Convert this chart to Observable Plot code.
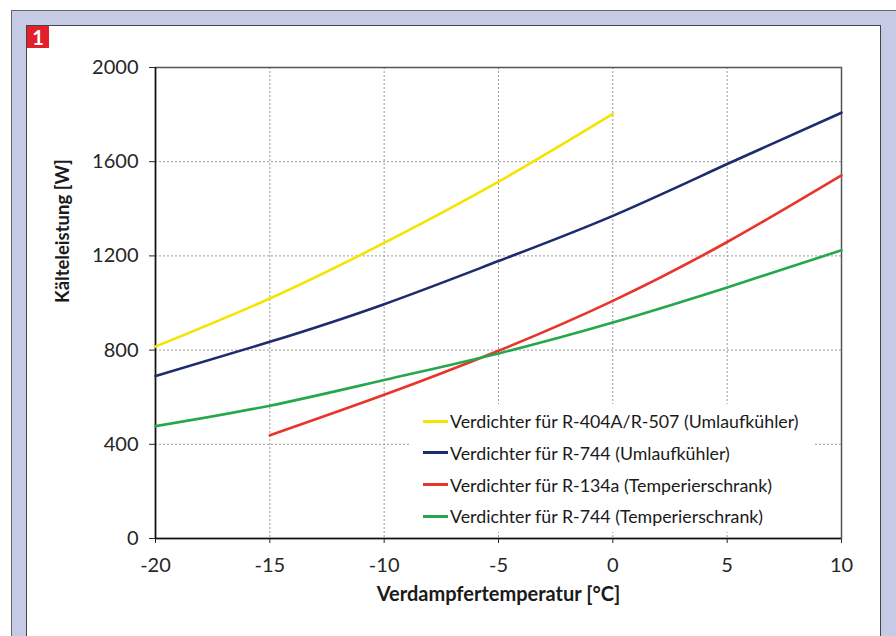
<!DOCTYPE html>
<html><head><meta charset="utf-8">
<script src="https://cdn.jsdelivr.net/npm/d3@7"></script>
<script src="https://cdn.jsdelivr.net/npm/@observablehq/plot@0.6"></script>
<style>
body{margin:0;background:#fff;}
#wrap{position:relative;width:896px;height:636px;overflow:hidden;background:#fff;font-family:Lato,sans-serif;}
#outer{position:absolute;left:11px;top:10px;width:900px;height:700px;background:#c6cbe5;border-top:1.5px solid #666;border-left:1.5px solid #666;}
#panel{position:absolute;left:26px;top:25px;width:853px;height:700px;background:#fff;border:1.5px solid #444;}
#badge{position:absolute;left:27px;top:26px;width:22px;height:22px;background:#e21f2b;color:#fff;font:bold 20px Lato,sans-serif;text-align:center;line-height:22px;}
#chart{position:absolute;left:0;top:0;}
#legend{position:absolute;left:411px;top:404px;width:402px;height:128px;background:#fff;}
.row{position:absolute;left:12px;height:20px;display:flex;align-items:center;font-size:17.8px;color:#1a1a1a;white-space:nowrap;}
.sw{width:25px;height:3px;margin-right:2px;}
</style></head>
<body>
<div id="wrap">
  <div id="outer"></div>
  <div id="panel"></div>
  <div id="badge">1</div>
  <div id="chart"></div>
  <div id="legend"></div>
</div>
<script>
const xTicks = [-20, -15, -10, -5, 0, 5, 10];
const yTicks = [0, 400, 800, 1200, 1600, 2000];

const seriesNames = [
  "Verdichter für R-404A/R-507 (Umlaufkühler)",
  "Verdichter für R-744 (Umlaufkühler)",
  "Verdichter für R-134a (Temperierschrank)",
  "Verdichter für R-744 (Temperierschrank)"
];
const seriesColors = ["#f7e300", "#1d2b6f", "#e8352b", "#25a84d"];

const tempsR404 = [-20, -15, -10, -5, 0];
const valsR404 = [815, 1019, 1255, 1515, 1803];
const tempsR744U = [-20, -15, -10, -5, 0, 5, 10];
const valsR744U = [690, 835, 995, 1178, 1370, 1590, 1808];
const tempsR134 = [-15, -10, -5, 0, 5, 10];
const valsR134 = [438, 610, 797, 1009, 1259, 1542];
const tempsR744T = [-20, -15, -10, -5, 0, 5, 10];
const valsR744T = [477, 564, 673, 786, 917, 1066, 1224];

const groups = [
  [tempsR404, valsR404],
  [tempsR744U, valsR744U],
  [tempsR134, valsR134],
  [tempsR744T, valsR744T]
];
const data = groups.flatMap(([t, v], i) => t.map((x, j) => ({series: seriesNames[i], t: x, w: v[j]})));

const fmt = d => String(d);

const chart = Plot.plot({
  width: 896,
  height: 636,
  marginLeft: 155,
  marginRight: 55,
  marginTop: 67,
  marginBottom: 98,
  style: {background: "transparent", fontFamily: "Lato, sans-serif", fontSize: "20px", color: "#262626"},
  x: {domain: [-20, 10], ticks: xTicks, tickFormat: fmt, tickSize: 5, tickPadding: 14, label: null},
  y: {domain: [0, 2000], ticks: yTicks, tickFormat: fmt, tickSize: 6, tickPadding: 11, label: null},
  color: {domain: seriesNames, range: seriesColors},
  marks: [
    Plot.ruleX(xTicks.slice(1, -1), {stroke: "#9a9a9a", strokeDasharray: "2,2", strokeWidth: 1}),
    Plot.ruleY(yTicks.slice(1, -1), {stroke: "#9a9a9a", strokeDasharray: "2,2", strokeWidth: 1}),
    Plot.frame({stroke: "#555", strokeWidth: 1.5}),
    Plot.ruleX([-20], {stroke: "#111", strokeWidth: 1.5}),
    Plot.ruleY([0], {stroke: "#111", strokeWidth: 1.5}),
    Plot.line(data, {x: "t", y: "w", z: "series", stroke: "series", curve: "natural", strokeWidth: 2.6}),
    Plot.text(["Kälteleistung [W]"], {frameAnchor: "left", rotate: -90, dx: -92, fontWeight: "bold", fontSize: 18.5, fill: "#1a1a1a"}),
    Plot.text(["Verdampfertemperatur [°C]"], {frameAnchor: "bottom", dy: 62, fontWeight: "bold", fontSize: 20, fill: "#1a1a1a"})
  ]
});
document.getElementById("chart").appendChild(chart);

const legend = document.getElementById("legend");
seriesNames.forEach((name, i) => {
  const row = document.createElement("div");
  row.className = "row";
  row.style.top = (7 + i * 31.8) + "px";
  const sw = document.createElement("span");
  sw.className = "sw";
  sw.style.background = seriesColors[i];
  const tx = document.createElement("span");
  tx.textContent = name;
  row.appendChild(sw);
  row.appendChild(tx);
  legend.appendChild(row);
});
</script>
</body></html>
